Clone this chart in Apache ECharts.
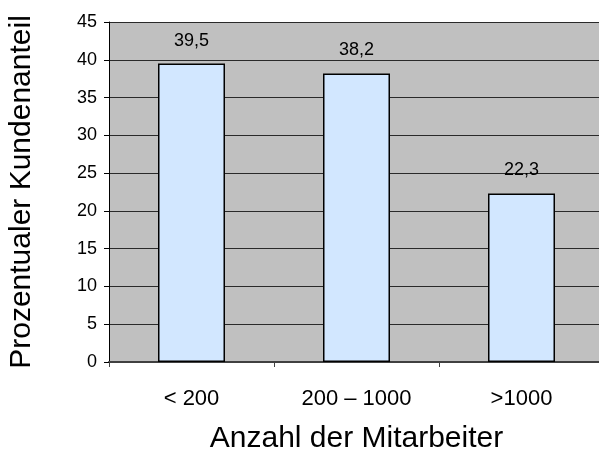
<!DOCTYPE html>
<html>
<head>
<meta charset="utf-8">
<script src="https://cdn.jsdelivr.net/npm/echarts@6/dist/echarts.min.js"></script>
<style>html,body{margin:0;padding:0;background:#fff;}#c{width:599px;height:463px;}</style>
</head>
<body>
<div id="c"></div>
<script>
const categories = ['< 200', '200 \u2013 1000', '>1000'];
const values = [39.5, 38.2, 22.3];
const labels = ['39,5', '38,2', '22,3'];
const yName = 'Prozentualer Kundenanteil';
const xName = 'Anzahl der Mitarbeiter';

const chart = echarts.init(document.getElementById('c'));
const font = 'Liberation Sans, Arial, sans-serif';
chart.setOption({
  animation: false,
  backgroundColor: '#ffffff',
  grid: { left: 109, top: 22, width: 495, height: 340, show: true, backgroundColor: '#c0c0c0', borderWidth: 0, containLabel: false, outerBoundsMode: 'none' },
  xAxis: {
    type: 'category',
    data: categories,
    name: xName,
    nameLocation: 'middle',
    nameGap: 62,
    nameTextStyle: { fontFamily: font, fontSize: 30, color: '#000' },
    axisLine: { lineStyle: { color: '#404040', width: 2 } },
    axisTick: { show: true, length: 5, lineStyle: { color: '#404040' } },
    axisLabel: { fontFamily: font, fontSize: 22, color: '#000', margin: 26 }
  },
  yAxis: {
    type: 'value',
    min: 0, max: 45, interval: 5,
    name: yName,
    nameLocation: 'middle',
    nameGap: 72,
    nameTextStyle: { fontFamily: font, fontSize: 30, color: '#000' },
    axisLine: { show: true, lineStyle: { color: '#000', width: 1 } },
    axisTick: { show: true, length: 5, lineStyle: { color: '#000' } },
    axisLabel: { fontFamily: font, fontSize: 18, color: '#000', margin: 12 },
    splitLine: { show: true, lineStyle: { color: '#2a2a2a', width: 1 } }
  },
  series: [{
    type: 'bar',
    data: values,
    barWidth: 67,
    itemStyle: { color: '#d2e7ff', borderColor: '#000', borderWidth: 1.5 },
    label: {
      show: true, position: 'top', distance: 14,
      fontFamily: font, fontSize: 18, color: '#000',
      formatter: p => labels[p.dataIndex]
    }
  }]
});
</script>
</body>
</html>
